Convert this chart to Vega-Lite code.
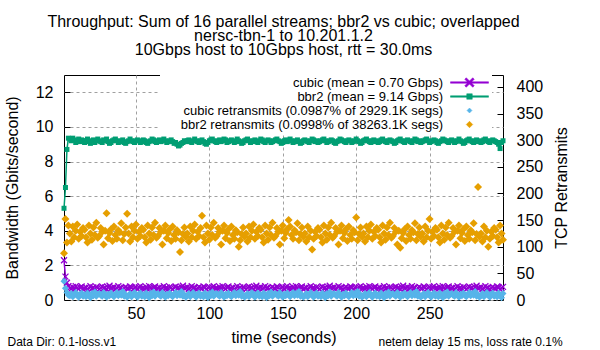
{
"$schema": "https://vega.github.io/schema/vega-lite/v6.json",
"width": 439, "height": 225,
"autosize": {"type": "none"},
"padding": {"left": 64, "top": 75, "right": 97, "bottom": 50},
"background": "white",
"config": {
 "font": "Liberation Sans",
 "view": {"stroke": "black", "strokeWidth": 1},
 "axis": {"labelFont": "Liberation Sans", "titleFont": "Liberation Sans", "labelColor": "black", "titleColor": "black", "titleFontWeight": "normal", "labelFontSize": 16, "titleFontSize": 16, "tickColor": "black", "domain": false, "gridColor": "#a0a0a0", "gridDash": [3,3], "gridOpacity": 1, "labelFlush": false, "labelOverlap": false}
},
"title": {"text": ["Throughput: Sum of 16 parallel streams; bbr2 vs cubic; overlapped", "nersc-tbn-1 to 10.201.1.2", "10Gbps host to 10Gbps host, rtt = 30.0ms"], "fontSize": 16, "fontWeight": "normal", "font": "Liberation Sans", "lineHeight": 14, "offset": 16, "color": "black", "anchor": "middle"},
"data": {"values": [
{"t":1,"c":2.3,"b":5.3,"r1":35,"r2":88},
{"t":2,"c":1.35,"b":6.5,"r1":22,"r2":152},
{"t":3,"c":1.0,"b":8.7,"r1":14,"r2":108},
{"t":4,"c":0.8,"b":9.35,"r1":9,"r2":140},
{"t":5,"c":0.7,"b":9.3,"r1":8,"r2":125},
{"t":6,"c":0.65,"b":9.2,"r1":12,"r2":110},
{"t":7,"c":0.75,"b":9.35,"r1":6,"r2":138},
{"t":8,"c":0.6,"b":9.25,"r1":10,"r2":118},
{"t":9,"c":0.8,"b":9.1,"r1":14,"r2":130},
{"t":10,"c":0.7,"b":9.2,"r1":9,"r2":142},
{"t":11,"c":0.65,"b":9.3,"r1":5,"r2":115},
{"t":12,"c":0.72,"b":9.15,"r1":11,"r2":128},
{"t":13,"c":0.78,"b":9.25,"r1":13,"r2":120},
{"t":14,"c":0.62,"b":9.2,"r1":7,"r2":135},
{"t":15,"c":0.68,"b":9.1,"r1":10,"r2":132},
{"t":16,"c":0.74,"b":9.2,"r1":6,"r2":118},
{"t":17,"c":0.6,"b":9.3,"r1":13,"r2":108},
{"t":18,"c":0.7,"b":9.15,"r1":9,"r2":140},
{"t":19,"c":0.8,"b":9.05,"r1":4,"r2":125},
{"t":20,"c":0.66,"b":9.2,"r1":12,"r2":113},
{"t":21,"c":0.72,"b":9.25,"r1":8,"r2":136},
{"t":22,"c":0.64,"b":9.1,"r1":15,"r2":122},
{"t":23,"c":0.76,"b":9.2,"r1":7,"r2":145},
{"t":24,"c":0.7,"b":9.3,"r1":11,"r2":117},
{"t":25,"c":0.62,"b":9.2,"r1":12,"r2":120},
{"t":26,"c":0.7,"b":9.15,"r1":9,"r2":135},
{"t":27,"c":0.78,"b":9.1,"r1":7,"r2":128},
{"t":28,"c":0.66,"b":9.25,"r1":14,"r2":104},
{"t":29,"c":0.72,"b":9.2,"r1":10,"r2":130},
{"t":30,"c":0.6,"b":9.3,"r1":5,"r2":163},
{"t":31,"c":0.74,"b":9.15,"r1":11,"r2":116},
{"t":32,"c":0.82,"b":9.05,"r1":8,"r2":126},
{"t":33,"c":0.68,"b":9.1,"r1":13,"r2":133},
{"t":34,"c":0.7,"b":9.2,"r1":9,"r2":111},
{"t":35,"c":0.75,"b":9.25,"r1":6,"r2":138},
{"t":36,"c":0.64,"b":9.3,"r1":11,"r2":122},
{"t":37,"c":0.7,"b":9.2,"r1":14,"r2":115},
{"t":38,"c":0.8,"b":9.1,"r1":8,"r2":131},
{"t":39,"c":0.66,"b":9.15,"r1":12,"r2":127},
{"t":40,"c":0.72,"b":9.2,"r1":9,"r2":144},
{"t":41,"c":0.58,"b":9.25,"r1":16,"r2":112},
{"t":42,"c":0.7,"b":9.1,"r1":7,"r2":124},
{"t":43,"c":0.76,"b":9.05,"r1":10,"r2":136},
{"t":44,"c":0.68,"b":9.15,"r1":5,"r2":162},
{"t":45,"c":0.66,"b":9.2,"r1":8,"r2":125},
{"t":46,"c":0.78,"b":9.3,"r1":12,"r2":110},
{"t":47,"c":0.72,"b":9.2,"r1":6,"r2":138},
{"t":48,"c":0.62,"b":9.15,"r1":10,"r2":118},
{"t":49,"c":0.7,"b":9.1,"r1":14,"r2":130},
{"t":50,"c":0.76,"b":9.2,"r1":9,"r2":142},
{"t":51,"c":0.64,"b":9.25,"r1":5,"r2":115},
{"t":52,"c":0.74,"b":9.2,"r1":11,"r2":128},
{"t":53,"c":0.8,"b":9.1,"r1":13,"r2":120},
{"t":54,"c":0.66,"b":9.15,"r1":7,"r2":135},
{"t":55,"c":0.7,"b":9.25,"r1":10,"r2":132},
{"t":56,"c":0.65,"b":9.2,"r1":6,"r2":118},
{"t":57,"c":0.75,"b":9.1,"r1":13,"r2":108},
{"t":58,"c":0.6,"b":9.05,"r1":9,"r2":140},
{"t":59,"c":0.8,"b":9.15,"r1":4,"r2":125},
{"t":60,"c":0.7,"b":9.2,"r1":12,"r2":113},
{"t":61,"c":0.65,"b":9.3,"r1":8,"r2":136},
{"t":62,"c":0.72,"b":9.25,"r1":15,"r2":122},
{"t":63,"c":0.78,"b":9.15,"r1":7,"r2":145},
{"t":64,"c":0.62,"b":9.1,"r1":11,"r2":117},
{"t":65,"c":0.68,"b":9.2,"r1":12,"r2":120},
{"t":66,"c":0.74,"b":9.25,"r1":9,"r2":135},
{"t":67,"c":0.6,"b":9.15,"r1":7,"r2":128},
{"t":68,"c":0.7,"b":9.2,"r1":14,"r2":104},
{"t":69,"c":0.8,"b":9.3,"r1":10,"r2":130},
{"t":70,"c":0.66,"b":9.2,"r1":5,"r2":140},
{"t":71,"c":0.72,"b":9.1,"r1":11,"r2":116},
{"t":72,"c":0.64,"b":9.15,"r1":8,"r2":126},
{"t":73,"c":0.76,"b":9.2,"r1":13,"r2":133},
{"t":74,"c":0.7,"b":9.25,"r1":9,"r2":111},
{"t":75,"c":0.62,"b":9.15,"r1":6,"r2":138},
{"t":76,"c":0.7,"b":9.05,"r1":11,"r2":122},
{"t":77,"c":0.78,"b":9.1,"r1":14,"r2":115},
{"t":78,"c":0.66,"b":9.0,"r1":8,"r2":131},
{"t":79,"c":0.72,"b":8.9,"r1":12,"r2":127},
{"t":80,"c":0.6,"b":8.95,"r1":9,"r2":90},
{"t":81,"c":0.74,"b":9.05,"r1":16,"r2":112},
{"t":82,"c":0.82,"b":9.1,"r1":7,"r2":124},
{"t":83,"c":0.68,"b":9.2,"r1":10,"r2":136},
{"t":84,"c":0.7,"b":9.15,"r1":5,"r2":119},
{"t":85,"c":0.75,"b":9.2,"r1":8,"r2":125},
{"t":86,"c":0.64,"b":9.25,"r1":12,"r2":110},
{"t":87,"c":0.7,"b":9.15,"r1":6,"r2":138},
{"t":88,"c":0.8,"b":9.1,"r1":10,"r2":118},
{"t":89,"c":0.66,"b":9.2,"r1":14,"r2":130},
{"t":90,"c":0.72,"b":9.3,"r1":9,"r2":142},
{"t":91,"c":0.58,"b":9.2,"r1":5,"r2":115},
{"t":92,"c":0.7,"b":9.15,"r1":11,"r2":128},
{"t":93,"c":0.76,"b":9.1,"r1":13,"r2":120},
{"t":94,"c":0.68,"b":9.2,"r1":7,"r2":135},
{"t":95,"c":0.66,"b":9.25,"r1":10,"r2":158},
{"t":96,"c":0.78,"b":9.15,"r1":6,"r2":118},
{"t":97,"c":0.72,"b":9.05,"r1":13,"r2":108},
{"t":98,"c":0.62,"b":9.0,"r1":9,"r2":140},
{"t":99,"c":0.7,"b":9.1,"r1":4,"r2":125},
{"t":100,"c":0.76,"b":9.2,"r1":12,"r2":113},
{"t":101,"c":0.64,"b":9.25,"r1":8,"r2":136},
{"t":102,"c":0.74,"b":9.3,"r1":15,"r2":122},
{"t":103,"c":0.8,"b":9.2,"r1":7,"r2":145},
{"t":104,"c":0.66,"b":9.15,"r1":11,"r2":117},
{"t":105,"c":0.7,"b":9.1,"r1":12,"r2":120},
{"t":106,"c":0.65,"b":9.2,"r1":9,"r2":135},
{"t":107,"c":0.75,"b":9.25,"r1":7,"r2":128},
{"t":108,"c":0.6,"b":9.15,"r1":14,"r2":104},
{"t":109,"c":0.8,"b":9.2,"r1":10,"r2":130},
{"t":110,"c":0.7,"b":9.3,"r1":5,"r2":140},
{"t":111,"c":0.65,"b":9.25,"r1":11,"r2":116},
{"t":112,"c":0.72,"b":9.1,"r1":8,"r2":126},
{"t":113,"c":0.78,"b":9.15,"r1":13,"r2":133},
{"t":114,"c":0.62,"b":9.2,"r1":9,"r2":111},
{"t":115,"c":0.68,"b":9.25,"r1":6,"r2":138},
{"t":116,"c":0.74,"b":9.2,"r1":11,"r2":122},
{"t":117,"c":0.6,"b":9.1,"r1":14,"r2":115},
{"t":118,"c":0.7,"b":9.15,"r1":8,"r2":131},
{"t":119,"c":0.8,"b":9.3,"r1":12,"r2":127},
{"t":120,"c":0.66,"b":9.2,"r1":9,"r2":100},
{"t":121,"c":0.72,"b":9.15,"r1":16,"r2":112},
{"t":122,"c":0.64,"b":9.05,"r1":7,"r2":124},
{"t":123,"c":0.76,"b":9.1,"r1":10,"r2":136},
{"t":124,"c":0.7,"b":9.2,"r1":5,"r2":119},
{"t":125,"c":0.62,"b":9.25,"r1":8,"r2":125},
{"t":126,"c":0.7,"b":9.3,"r1":12,"r2":110},
{"t":127,"c":0.78,"b":9.2,"r1":6,"r2":138},
{"t":128,"c":0.66,"b":9.1,"r1":10,"r2":118},
{"t":129,"c":0.72,"b":9.15,"r1":14,"r2":130},
{"t":130,"c":0.6,"b":9.2,"r1":9,"r2":142},
{"t":131,"c":0.74,"b":9.25,"r1":5,"r2":115},
{"t":132,"c":0.82,"b":9.15,"r1":11,"r2":128},
{"t":133,"c":0.68,"b":9.1,"r1":13,"r2":120},
{"t":134,"c":0.7,"b":9.2,"r1":7,"r2":135},
{"t":135,"c":0.75,"b":9.3,"r1":10,"r2":132},
{"t":136,"c":0.64,"b":9.25,"r1":6,"r2":118},
{"t":137,"c":0.7,"b":9.15,"r1":13,"r2":108},
{"t":138,"c":0.8,"b":9.1,"r1":9,"r2":140},
{"t":139,"c":0.66,"b":9.2,"r1":4,"r2":125},
{"t":140,"c":0.72,"b":9.25,"r1":12,"r2":113},
{"t":141,"c":0.58,"b":9.2,"r1":8,"r2":136},
{"t":142,"c":0.7,"b":9.1,"r1":15,"r2":122},
{"t":143,"c":0.76,"b":9.15,"r1":7,"r2":145},
{"t":144,"c":0.68,"b":9.2,"r1":11,"r2":117},
{"t":145,"c":0.66,"b":9.25,"r1":12,"r2":120},
{"t":146,"c":0.78,"b":9.3,"r1":9,"r2":135},
{"t":147,"c":0.72,"b":9.2,"r1":7,"r2":128},
{"t":148,"c":0.62,"b":9.15,"r1":14,"r2":104},
{"t":149,"c":0.7,"b":9.05,"r1":10,"r2":130},
{"t":150,"c":0.76,"b":9.1,"r1":5,"r2":140},
{"t":151,"c":0.64,"b":9.2,"r1":11,"r2":116},
{"t":152,"c":0.74,"b":9.25,"r1":8,"r2":126},
{"t":153,"c":0.8,"b":9.15,"r1":13,"r2":133},
{"t":154,"c":0.66,"b":9.2,"r1":9,"r2":150},
{"t":155,"c":0.7,"b":9.3,"r1":6,"r2":138},
{"t":156,"c":0.65,"b":9.2,"r1":11,"r2":122},
{"t":157,"c":0.75,"b":9.1,"r1":14,"r2":115},
{"t":158,"c":0.6,"b":9.15,"r1":8,"r2":131},
{"t":159,"c":0.8,"b":9.2,"r1":12,"r2":127},
{"t":160,"c":0.7,"b":9.25,"r1":9,"r2":144},
{"t":161,"c":0.65,"b":9.15,"r1":16,"r2":112},
{"t":162,"c":0.72,"b":9.05,"r1":7,"r2":124},
{"t":163,"c":0.78,"b":9.1,"r1":10,"r2":136},
{"t":164,"c":0.62,"b":9.2,"r1":5,"r2":119},
{"t":165,"c":0.68,"b":9.25,"r1":8,"r2":125},
{"t":166,"c":0.74,"b":9.2,"r1":12,"r2":110},
{"t":167,"c":0.6,"b":9.15,"r1":6,"r2":138},
{"t":168,"c":0.7,"b":9.1,"r1":10,"r2":118},
{"t":169,"c":0.8,"b":9.2,"r1":14,"r2":130},
{"t":170,"c":0.66,"b":9.3,"r1":9,"r2":95},
{"t":171,"c":0.72,"b":9.25,"r1":5,"r2":115},
{"t":172,"c":0.64,"b":9.15,"r1":11,"r2":128},
{"t":173,"c":0.76,"b":9.2,"r1":13,"r2":120},
{"t":174,"c":0.7,"b":9.1,"r1":7,"r2":135},
{"t":175,"c":0.62,"b":9.15,"r1":10,"r2":132},
{"t":176,"c":0.7,"b":9.2,"r1":6,"r2":118},
{"t":177,"c":0.78,"b":9.25,"r1":13,"r2":108},
{"t":178,"c":0.66,"b":9.3,"r1":9,"r2":140},
{"t":179,"c":0.72,"b":9.2,"r1":4,"r2":125},
{"t":180,"c":0.6,"b":9.1,"r1":12,"r2":113},
{"t":181,"c":0.74,"b":9.15,"r1":8,"r2":136},
{"t":182,"c":0.82,"b":9.2,"r1":15,"r2":122},
{"t":183,"c":0.68,"b":9.25,"r1":7,"r2":145},
{"t":184,"c":0.7,"b":9.2,"r1":11,"r2":117},
{"t":185,"c":0.75,"b":9.1,"r1":12,"r2":120},
{"t":186,"c":0.64,"b":9.05,"r1":9,"r2":135},
{"t":187,"c":0.7,"b":9.15,"r1":7,"r2":128},
{"t":188,"c":0.8,"b":9.2,"r1":14,"r2":104},
{"t":189,"c":0.66,"b":9.3,"r1":10,"r2":130},
{"t":190,"c":0.72,"b":9.25,"r1":5,"r2":140},
{"t":191,"c":0.58,"b":9.2,"r1":11,"r2":116},
{"t":192,"c":0.7,"b":9.15,"r1":8,"r2":126},
{"t":193,"c":0.76,"b":9.1,"r1":13,"r2":133},
{"t":194,"c":0.68,"b":9.2,"r1":9,"r2":111},
{"t":195,"c":0.66,"b":9.25,"r1":6,"r2":138},
{"t":196,"c":0.78,"b":9.2,"r1":11,"r2":122},
{"t":197,"c":0.72,"b":9.1,"r1":14,"r2":115},
{"t":198,"c":0.62,"b":9.15,"r1":8,"r2":131},
{"t":199,"c":0.7,"b":9.2,"r1":12,"r2":127},
{"t":200,"c":0.76,"b":9.3,"r1":9,"r2":155},
{"t":201,"c":0.64,"b":9.2,"r1":16,"r2":112},
{"t":202,"c":0.74,"b":9.15,"r1":7,"r2":124},
{"t":203,"c":0.8,"b":9.05,"r1":10,"r2":136},
{"t":204,"c":0.66,"b":9.1,"r1":5,"r2":119},
{"t":205,"c":0.7,"b":9.2,"r1":8,"r2":125},
{"t":206,"c":0.65,"b":9.25,"r1":12,"r2":110},
{"t":207,"c":0.75,"b":9.3,"r1":6,"r2":138},
{"t":208,"c":0.6,"b":9.2,"r1":10,"r2":118},
{"t":209,"c":0.8,"b":9.15,"r1":14,"r2":130},
{"t":210,"c":0.7,"b":9.1,"r1":9,"r2":142},
{"t":211,"c":0.65,"b":9.2,"r1":5,"r2":115},
{"t":212,"c":0.72,"b":9.25,"r1":11,"r2":128},
{"t":213,"c":0.78,"b":9.15,"r1":13,"r2":120},
{"t":214,"c":0.62,"b":9.2,"r1":7,"r2":135},
{"t":215,"c":0.68,"b":9.1,"r1":10,"r2":132},
{"t":216,"c":0.74,"b":9.15,"r1":6,"r2":118},
{"t":217,"c":0.6,"b":9.25,"r1":13,"r2":108},
{"t":218,"c":0.7,"b":9.3,"r1":9,"r2":140},
{"t":219,"c":0.8,"b":9.2,"r1":4,"r2":125},
{"t":220,"c":0.66,"b":9.15,"r1":12,"r2":113},
{"t":221,"c":0.72,"b":9.1,"r1":8,"r2":136},
{"t":222,"c":0.64,"b":9.2,"r1":15,"r2":122},
{"t":223,"c":0.76,"b":9.25,"r1":7,"r2":145},
{"t":224,"c":0.7,"b":9.2,"r1":11,"r2":117},
{"t":225,"c":0.62,"b":9.15,"r1":12,"r2":120},
{"t":226,"c":0.7,"b":9.05,"r1":9,"r2":135},
{"t":227,"c":0.78,"b":9.1,"r1":7,"r2":128},
{"t":228,"c":0.66,"b":9.2,"r1":14,"r2":104},
{"t":229,"c":0.72,"b":9.25,"r1":10,"r2":130},
{"t":230,"c":0.6,"b":9.3,"r1":5,"r2":98},
{"t":231,"c":0.74,"b":9.2,"r1":11,"r2":116},
{"t":232,"c":0.82,"b":9.15,"r1":8,"r2":126},
{"t":233,"c":0.68,"b":9.1,"r1":13,"r2":133},
{"t":234,"c":0.7,"b":9.2,"r1":9,"r2":111},
{"t":235,"c":0.75,"b":9.25,"r1":6,"r2":138},
{"t":236,"c":0.64,"b":9.2,"r1":11,"r2":122},
{"t":237,"c":0.7,"b":9.15,"r1":14,"r2":115},
{"t":238,"c":0.8,"b":9.1,"r1":8,"r2":131},
{"t":239,"c":0.66,"b":9.2,"r1":12,"r2":127},
{"t":240,"c":0.72,"b":9.3,"r1":9,"r2":144},
{"t":241,"c":0.58,"b":9.25,"r1":16,"r2":112},
{"t":242,"c":0.7,"b":9.15,"r1":7,"r2":124},
{"t":243,"c":0.76,"b":9.2,"r1":10,"r2":136},
{"t":244,"c":0.68,"b":9.1,"r1":5,"r2":119},
{"t":245,"c":0.66,"b":9.15,"r1":8,"r2":125},
{"t":246,"c":0.78,"b":9.2,"r1":12,"r2":110},
{"t":247,"c":0.72,"b":9.25,"r1":6,"r2":138},
{"t":248,"c":0.62,"b":9.3,"r1":10,"r2":118},
{"t":249,"c":0.7,"b":9.2,"r1":14,"r2":130},
{"t":250,"c":0.76,"b":9.1,"r1":9,"r2":152},
{"t":251,"c":0.64,"b":9.15,"r1":5,"r2":115},
{"t":252,"c":0.74,"b":9.2,"r1":11,"r2":128},
{"t":253,"c":0.8,"b":9.25,"r1":13,"r2":120},
{"t":254,"c":0.66,"b":9.2,"r1":7,"r2":135},
{"t":255,"c":0.7,"b":9.1,"r1":10,"r2":132},
{"t":256,"c":0.65,"b":9.05,"r1":6,"r2":118},
{"t":257,"c":0.75,"b":9.15,"r1":13,"r2":108},
{"t":258,"c":0.6,"b":9.2,"r1":9,"r2":140},
{"t":259,"c":0.8,"b":9.3,"r1":4,"r2":125},
{"t":260,"c":0.7,"b":9.25,"r1":12,"r2":113},
{"t":261,"c":0.65,"b":9.2,"r1":8,"r2":136},
{"t":262,"c":0.72,"b":9.15,"r1":15,"r2":122},
{"t":263,"c":0.78,"b":9.1,"r1":7,"r2":145},
{"t":264,"c":0.62,"b":9.2,"r1":11,"r2":117},
{"t":265,"c":0.68,"b":9.25,"r1":12,"r2":120},
{"t":266,"c":0.74,"b":9.2,"r1":9,"r2":135},
{"t":267,"c":0.6,"b":9.1,"r1":7,"r2":128},
{"t":268,"c":0.7,"b":9.15,"r1":14,"r2":104},
{"t":269,"c":0.8,"b":9.2,"r1":10,"r2":130},
{"t":270,"c":0.66,"b":9.3,"r1":5,"r2":140},
{"t":271,"c":0.72,"b":9.2,"r1":11,"r2":116},
{"t":272,"c":0.64,"b":9.15,"r1":8,"r2":126},
{"t":273,"c":0.76,"b":9.05,"r1":13,"r2":133},
{"t":274,"c":0.7,"b":9.1,"r1":9,"r2":111},
{"t":275,"c":0.62,"b":9.2,"r1":6,"r2":138},
{"t":276,"c":0.7,"b":9.25,"r1":11,"r2":122},
{"t":277,"c":0.78,"b":9.3,"r1":14,"r2":115},
{"t":278,"c":0.66,"b":9.2,"r1":8,"r2":131},
{"t":279,"c":0.72,"b":9.15,"r1":12,"r2":127},
{"t":280,"c":0.6,"b":9.1,"r1":9,"r2":144},
{"t":281,"c":0.74,"b":9.2,"r1":16,"r2":112},
{"t":282,"c":0.82,"b":9.25,"r1":7,"r2":124},
{"t":283,"c":0.68,"b":9.15,"r1":10,"r2":212},
{"t":284,"c":0.7,"b":9.2,"r1":5,"r2":119},
{"t":285,"c":0.75,"b":9.1,"r1":8,"r2":125},
{"t":286,"c":0.64,"b":9.15,"r1":12,"r2":110},
{"t":287,"c":0.7,"b":9.25,"r1":6,"r2":138},
{"t":288,"c":0.8,"b":9.3,"r1":10,"r2":118},
{"t":289,"c":0.66,"b":9.2,"r1":14,"r2":130},
{"t":290,"c":0.72,"b":9.15,"r1":9,"r2":100},
{"t":291,"c":0.58,"b":9.1,"r1":5,"r2":115},
{"t":292,"c":0.7,"b":9.2,"r1":11,"r2":128},
{"t":293,"c":0.76,"b":9.25,"r1":13,"r2":120},
{"t":294,"c":0.68,"b":9.2,"r1":7,"r2":135},
{"t":295,"c":0.66,"b":9.15,"r1":10,"r2":132},
{"t":296,"c":0.78,"b":9.1,"r1":6,"r2":118},
{"t":297,"c":0.72,"b":9.0,"r1":13,"r2":108},
{"t":298,"c":0.62,"b":8.75,"r1":9,"r2":140},
{"t":299,"c":0.7,"b":9.1,"r1":4,"r2":125},
{"t":300,"c":0.76,"b":9.2,"r1":12,"r2":113}
]},
"layer": [
 {"layer": [
  {"mark": {"type": "line", "strokeWidth": 1.5},
   "encoding": {
    "x": {"field": "t", "type": "quantitative", "scale": {"domain": [1, 300], "nice": false, "zero": false},
      "axis": {"title": "time (seconds)", "orient": "bottom", "values": [50, 100, 150, 200, 250], "tickCount": 20, "grid": true, "labelOverlap": false, "tickSize": -6, "labelPadding": 19, "labelBaseline": "middle", "titleX": 219.5, "titleY": 37, "titleBaseline": "middle", "titleAlign": "center"}},
    "y": {"field": "c", "type": "quantitative", "scale": {"domain": [0, 13], "nice": false},
      "axis": {"title": "Bandwidth (Gbits/second)", "orient": "left", "values": [0, 2, 4, 6, 8, 10, 12], "format": "d", "tickCount": 20, "grid": true, "labelOverlap": false, "tickSize": -6, "labelPadding": 17, "titleX": -52, "titleY": 112.5, "titleAngle": -90, "titleAlign": "center", "titleBaseline": "middle"}},
    "color": {"datum": "cubic (mean = 0.70 Gbps)"}
   }},
  {"mark": {"type": "point", "shape": "M-1,-1L1,1M-1,1L1,-1", "size": 36, "strokeWidth": 1.3, "filled": false, "opacity": 1},
   "encoding": {
    "x": {"field": "t", "type": "quantitative", "scale": {"domain": [1, 300], "nice": false, "zero": false}},
    "y": {"field": "c", "type": "quantitative", "scale": {"domain": [0, 13], "nice": false}},
    "color": {"datum": "cubic (mean = 0.70 Gbps)"}}},
  {"mark": {"type": "line", "strokeWidth": 1.5},
   "encoding": {
    "x": {"field": "t", "type": "quantitative", "scale": {"domain": [1, 300], "nice": false, "zero": false}},
    "y": {"field": "b", "type": "quantitative", "scale": {"domain": [0, 13], "nice": false}},
    "color": {"datum": "bbr2 (mean = 9.14 Gbps)"}}},
  {"mark": {"type": "point", "shape": "square", "size": 25, "filled": true, "opacity": 1},
   "encoding": {
    "x": {"field": "t", "type": "quantitative", "scale": {"domain": [1, 300], "nice": false, "zero": false}},
    "y": {"field": "b", "type": "quantitative", "scale": {"domain": [0, 13], "nice": false}},
    "color": {"datum": "bbr2 (mean = 9.14 Gbps)"}}}
 ]},
 {"layer": [
  {"mark": {"type": "point", "shape": "diamond", "size": 49, "filled": true, "opacity": 1},
   "encoding": {
    "x": {"field": "t", "type": "quantitative", "scale": {"domain": [1, 300], "nice": false, "zero": false},
      "axis": {"title": "Data Dir: 0.1-loss.v1", "orient": "bottom", "labels": false, "ticks": false, "grid": false, "titleFontSize": 12, "titleX": -57, "titleY": 41, "titleAlign": "left", "titleBaseline": "middle"}},
    "y": {"field": "r1", "type": "quantitative", "scale": {"domain": [0, 422.5], "nice": false},
      "axis": {"title": "TCP Retransmits", "orient": "right", "values": [0, 50, 100, 150, 200, 250, 300, 350, 400], "format": "d", "tickCount": 20, "grid": false, "labelOverlap": false, "tickSize": -6, "labelPadding": 19, "titleX": 58.7, "titleY": 112.5, "titleAngle": -90, "titleAlign": "center", "titleBaseline": "middle"}},
    "color": {"datum": "cubic retransmits (0.0987% of 2929.1K segs)"}}},
  {"mark": {"type": "point", "shape": "diamond", "size": 64, "filled": true, "opacity": 1},
   "encoding": {
    "x": {"field": "t", "type": "quantitative", "scale": {"domain": [1, 300], "nice": false, "zero": false}},
    "y": {"field": "r2", "type": "quantitative", "scale": {"domain": [0, 422.5], "nice": false}},
    "color": {"datum": "bbr2 retransmits (0.0998% of 38263.1K segs)"}}}
 ]},
 {"mark": {"type": "rule", "opacity": 0},
  "encoding": {
   "x": {"aggregate": "min", "field": "t", "type": "quantitative", "scale": {"domain": [1, 300], "nice": false, "zero": false},
     "axis": {"title": "netem delay 15 ms, loss rate 0.1%", "orient": "bottom", "labels": false, "ticks": false, "grid": false, "titleFontSize": 12, "titleX": 314, "titleY": 41, "titleAlign": "left", "titleBaseline": "middle"}}}},
 {"mark": {"type": "point", "opacity": 0, "filled": true},
  "encoding": {
   "color": {"datum": "cubic (mean = 0.70 Gbps)",
     "scale": {"domain": ["cubic (mean = 0.70 Gbps)", "bbr2 (mean = 9.14 Gbps)", "cubic retransmits (0.0987% of 2929.1K segs)", "bbr2 retransmits (0.0998% of 38263.1K segs)"], "range": ["#9400d3", "#009e73", "#56b4e9", "#e69f00"]},
     "legend": {"title": null, "orient": "none", "legendX": 96, "legendY": -1, "direction": "vertical", "labelFont": "Liberation Sans", "labelFontSize": 13, "labelColor": "black", "labelAlign": "right", "labelBaseline": "middle", "labelOffset": -33, "symbolOffset": 301, "symbolSize": 100, "symbolStrokeWidth": 0.5, "symbolOpacity": 1, "labelLimit": 400, "rowPadding": -2.4, "padding": 2, "fillColor": "white"}},
   "shape": {"datum": "cubic (mean = 0.70 Gbps)",
     "scale": {"domain": ["cubic (mean = 0.70 Gbps)", "bbr2 (mean = 9.14 Gbps)", "cubic retransmits (0.0987% of 2929.1K segs)", "bbr2 retransmits (0.0998% of 38263.1K segs)"], "range": ["M-3.8,-0.15H3.8V0.15H-3.8Z M-0.95,-0.65L-0.65,-0.95L0.95,0.65L0.65,0.95Z M-0.95,0.65L0.65,-0.95L0.95,-0.65L-0.65,0.95Z", "M-3.8,-0.15H3.8V0.15H-3.8Z M-0.55,-0.55H0.55V0.55H-0.55Z", "M0,-0.5L0.5,0L0,0.5L-0.5,0Z", "M0,-0.65L0.65,0L0,0.65L-0.65,0Z"]},
     "legend": {"title": null, "orient": "none", "legendX": 96, "legendY": -1, "direction": "vertical", "labelFont": "Liberation Sans", "labelFontSize": 13, "labelColor": "black", "labelAlign": "right", "labelBaseline": "middle", "labelOffset": -33, "symbolOffset": 301, "symbolSize": 100, "symbolStrokeWidth": 0.5, "symbolOpacity": 1, "labelLimit": 400, "rowPadding": -2.4, "padding": 2, "fillColor": "white"}}
  }}
],
"resolve": {"scale": {"y": "independent"}, "axis": {"x": "independent"}}
}
